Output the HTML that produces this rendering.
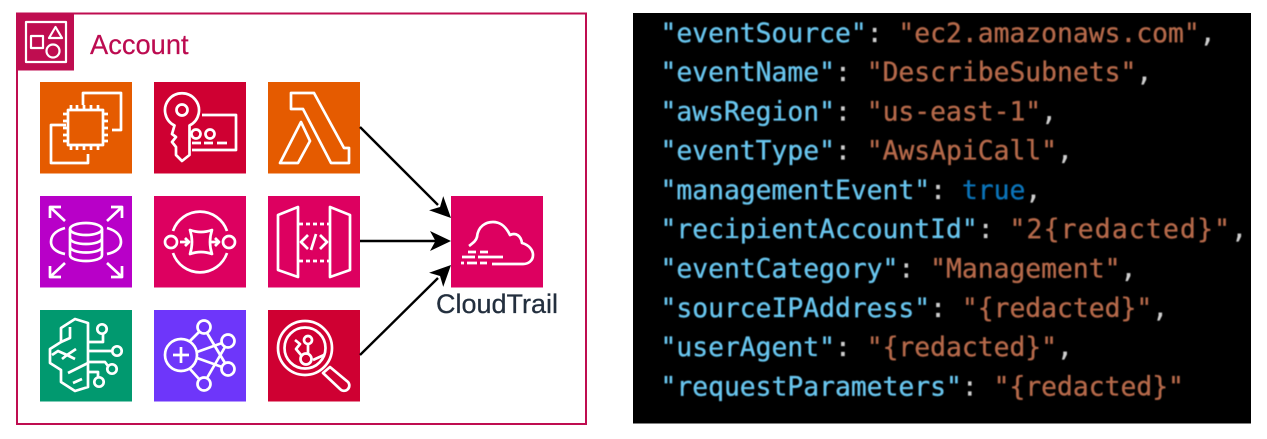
<!DOCTYPE html>
<html><head><meta charset="utf-8"><style>
html,body{margin:0;padding:0;background:#fff}
svg{display:block;position:absolute;left:0;top:0}
.ic *{fill:none;stroke:#fff;stroke-width:2.700;stroke-linejoin:round}
.code{font-family:"DejaVu Sans Mono","Liberation Mono",monospace;font-size:26.350px;filter:blur(.5px);stroke-width:.35px}
.k{fill:#68c5ee;stroke:#68c5ee}.s{fill:#b5694a;stroke:#b5694a}.p{fill:#cfcfcf;stroke:#cfcfcf}.t{fill:#0b73b8;stroke:#0b73b8}
</style></head><body>
<svg width="1267" height="439" viewBox="0 0 1267 439" xmlns="http://www.w3.org/2000/svg">
<g style="filter:blur(.3px)">
<rect x="17" y="13.500" width="569" height="410.500" fill="#fff" stroke="#BF0D50" stroke-width="2"/>
<rect x="17" y="14" width="57" height="56.500" fill="#BF0D50"/>
<g class="ic">
<rect x="26" y="22" width="40" height="40" style="stroke-width:2.200"/><rect x="31" y="36" width="12" height="12" style="stroke-width:2.200"/><path d="M55.500 27L62 38H49Z" style="stroke-width:2.200"/><circle cx="53" cy="51" r="6.500" style="stroke-width:2.200"/>
</g>
<text x="90" y="54" font-family="Liberation Sans,sans-serif" font-size="27.300" fill="#BC0B50" stroke="#BC0B50" stroke-width=".2">Account</text>

<!-- EC2 -->
<rect x="40" y="82" width="92" height="91.500" fill="#E55B00"/>
<g class="ic" transform="translate(40 82)">
<rect x="28" y="28" width="35" height="35"/>
<path d="M43 23V11H81V48H72M26 43H11V81H48V72"/>
<path d="M31 23V28M37 23V28M44 23V28M51 23V28M58 23V28M31 63V68M37 63V68M44 63V68M51 63V68M58 63V68M23 32H28M23 39H28M23 46H28M23 53H28M23 59H28M63 32H68M63 39H68M63 46H68M63 53H68M63 59H68"/>
</g>
<!-- KMS -->
<rect x="154" y="82" width="92" height="91.500" fill="#CF0032"/>
<g class="ic" transform="translate(154 82)">
<path d="M20.500 43.500A17 17 0 1 1 35.500 43.500V73L28 79L22 73V65L18 60L22 55L18 52Z"/>
<circle cx="28" cy="28" r="5.500"/>
<path d="M48 33H82V68H38"/>
<circle cx="42" cy="52" r="4.500"/><circle cx="56" cy="52" r="4.500"/>
<path d="M38 61H47M50 61H59M63 61H73"/>
</g>
<!-- Lambda -->
<rect x="268" y="82" width="92" height="91.500" fill="#E55B00"/>
<g class="ic" transform="translate(268 82)">
<path d="M23 11H46L76 66H81V81H63L35 27H23Z"/><path d="M33 40L42 59L30 81H12Z"/>
</g>
<!-- RDS -->
<rect x="40" y="196" width="92" height="91.500" fill="#B800C8"/>
<g class="ic" transform="translate(40 196)">
<ellipse cx="46" cy="33" rx="16" ry="6"/>
<path d="M30 33V59C30 67 62 67 62 59V33M30 42C30 50 62 50 62 42M30 50.500C30 58.500 62 58.500 62 50.500"/>
<path d="M25 32C14 35 11 41 11 46C11 51 15 56 25 58M67 32C78 35 81 41 81 46C81 51 77 56 67 58"/>
<path d="M10 11L25 25M10 22V11H21M82 11L67 25M82 22V11H71M10 81L25 67M10 70V81H21M82 81L67 67M82 70V81H71"/>
</g>
<!-- SQS -->
<rect x="154" y="196" width="92" height="91.500" fill="#DD0060"/>
<g class="ic" transform="translate(154 196)">
<path d="M19 35A28.500 28.500 0 0 1 73 35M19 57A28.500 28.500 0 0 0 73 57"/>
<circle cx="17" cy="46" r="6"/><circle cx="75" cy="46" r="6"/>
<path d="M36 34Q47 38 58 34Q54 46 58 58Q47 54 36 58Q40 46 36 34Z"/>
<path d="M26 46H35M31 42L35 46L31 50M56 46H65M61 42L65 46L61 50"/>
</g>
<!-- API GW -->
<rect x="268" y="196" width="92" height="91.500" fill="#DD0060"/>
<g class="ic" transform="translate(268 196)">
<path d="M10 19L30 11V81L10 74Z"/><path d="M62 11L82 19V74L62 81Z"/>
<path d="M31 28H61M31 65H61" stroke-dasharray="4 3"/>
<path d="M40 39L33 46L40 53M52 39L59 46L52 53M48 38L43 54"/>
</g>
<!-- Green -->
<rect x="40" y="310" width="92" height="91.500" fill="#01996F"/>
<g class="ic" transform="translate(40 310)">
<path d="M48 13L35 9L21 18V32L10 39V53L21 60V72L35 81L48 77Z"/>
<path d="M30 17V28L21 32M12 45L18 41L27 45L36 39M27 45L35 49M27 45L22 49M28 63L48 53M33 73L42 69"/>
<path d="M48 32H63V24M48 41H72M48 52H65L68 56M48 62H58V68"/>
<circle cx="62" cy="19" r="4.700"/><circle cx="77" cy="41" r="4.700"/><circle cx="72" cy="59" r="4.700"/><circle cx="59" cy="72" r="4.700"/>
</g>
<!-- Violet -->
<rect x="154" y="310" width="92" height="91.500" fill="#6E36FA"/>
<g class="ic" transform="translate(154 310)">
<circle cx="27" cy="45" r="16"/><path d="M27 37V53M19 45H35"/>
<circle cx="50" cy="17" r="6.500"/><circle cx="74" cy="31" r="6.500"/><circle cx="74" cy="59" r="6.500"/><circle cx="50" cy="74" r="6.500"/>
<path d="M36 31L45 22M43 42L68 33M43 48L68 57M36 59L45 69M53 23L71 53M53 68L71 37"/>
</g>
<!-- Red -->
<rect x="268" y="310" width="92" height="91.500" fill="#CF0032"/>
<g class="ic" transform="translate(268 310)">
<circle cx="37" cy="38" r="27"/><circle cx="37" cy="38" r="20.500"/>
<path d="M55 63L62 57L80 72A5 5 0 0 1 72 79Z"/>
<circle cx="40" cy="30" r="4"/><circle cx="38" cy="49" r="5.500"/>
<path d="M40 34V44M27 30L32 34L28 39L33 45M45 50L56 45"/>
</g>
<!-- CloudTrail -->
<rect x="451" y="196" width="92" height="91.500" fill="#DD0060"/>
<g class="ic" transform="translate(451 196)">
<path d="M18 50C22 47 25 45 26 41C27 30 35 26 42 26C50 26 55 31 59 39C65 36 70 40 71 47C78 49 82 54 82 59C82 65 77 68 72 68H41"/>
<path d="M17 56H25M29 56H37M11 61H24M27 61H52M10 67H13M16 67H26M29 67H36"/>
</g>
<text x="436" y="313" font-family="Liberation Sans,sans-serif" font-size="27" fill="#232F3E" stroke="#232F3E" stroke-width=".25">CloudTrail</text>

<!-- arrows -->
<g stroke="#000" stroke-width="2.400" fill="none">
<path d="M360 127L438 205"/><path d="M360 241H438"/><path d="M360 355L438 278"/>
</g>
<g fill="#000">
<path d="M0 0L-21 -10L-15.500 0L-21 10Z" transform="translate(451 218) rotate(45)"/>
<path d="M0 0L-21 -10L-15.500 0L-21 10Z" transform="translate(451 241)"/>
<path d="M0 0L-21 -10L-15.500 0L-21 10Z" transform="translate(451 265) rotate(-45)"/>
</g>
</g>

<!-- code panel -->
<rect x="633" y="13" width="618" height="410.500" fill="#000"/>
<g class="code" xml:space="preserve">
<text x="660.500" y="42"><tspan class="k">"eventSource"</tspan><tspan class="p">: </tspan><tspan class="s">"ec2.amazonaws.com"</tspan><tspan class="p">,</tspan></text>
<text x="660.500" y="81"><tspan class="k">"eventName"</tspan><tspan class="p">: </tspan><tspan class="s">"DescribeSubnets"</tspan><tspan class="p">,</tspan></text>
<text x="660.500" y="120.500"><tspan class="k">"awsRegion"</tspan><tspan class="p">: </tspan><tspan class="s">"us-east-1"</tspan><tspan class="p">,</tspan></text>
<text x="660.500" y="159.500"><tspan class="k">"eventType"</tspan><tspan class="p">: </tspan><tspan class="s">"AwsApiCall"</tspan><tspan class="p">,</tspan></text>
<text x="660.500" y="199"><tspan class="k">"managementEvent"</tspan><tspan class="p">: </tspan><tspan class="t">true</tspan><tspan class="p">,</tspan></text>
<text x="660.500" y="238"><tspan class="k">"recipientAccountId"</tspan><tspan class="p">: </tspan><tspan class="s" letter-spacing="1.200">"2{redacted}"</tspan><tspan class="p">,</tspan></text>
<text x="660.500" y="277.500"><tspan class="k">"eventCategory"</tspan><tspan class="p">: </tspan><tspan class="s">"Management"</tspan><tspan class="p">,</tspan></text>
<text x="660.500" y="317"><tspan class="k">"sourceIPAddress"</tspan><tspan class="p">: </tspan><tspan class="s">"{redacted}"</tspan><tspan class="p">,</tspan></text>
<text x="660.500" y="356"><tspan class="k">"userAgent"</tspan><tspan class="p">: </tspan><tspan class="s">"{redacted}"</tspan><tspan class="p">,</tspan></text>
<text x="660.500" y="395.500"><tspan class="k">"requestParameters"</tspan><tspan class="p">: </tspan><tspan class="s">"{redacted}"</tspan></text>
</g>
</svg>
</body></html>
